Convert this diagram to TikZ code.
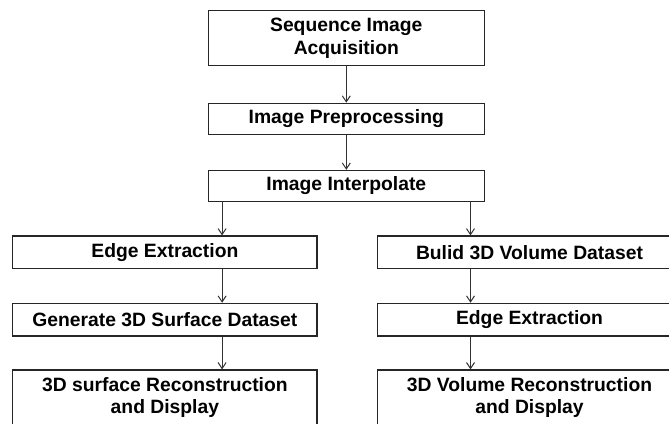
\documentclass[tikz,border=0pt]{standalone}
\usepackage{fontspec}
\setmainfont{Liberation Sans}
\usetikzlibrary{arrows.meta}
\begin{document}
\begin{tikzpicture}
[x=1pt,y=-1pt,
every node/.style={draw=black!85,line width=1.2pt,fill=white,align=center,inner sep=0pt,
  font=\bfseries\fontsize{19.3}{22.7}\selectfont},
stage/.style={minimum width=276pt,minimum height=31pt},
branch/.style={minimum width=304.3pt,minimum height=32.7pt},
link/.style={draw=black!80,line width=1pt,-{Straight Barb[length=6pt,width=8pt]}}]
\useasboundingbox (0,0) rectangle (669,423);
% main line
\node[stage,minimum height=55pt] (acq) at (346.3,38.2) {Sequence Image\\Acquisition};
\node[stage] (prep) at (346.3,118.8) {Image Preprocessing};
\node[stage] (interp) at (346.3,185.9) {Image Interpolate};
% surface branch
\node[branch] (edgeL) at (164.9,252.4) {Edge Extraction};
\node[branch] (genL) at (164.9,319.7) {Generate 3D Surface Dataset};
\node[branch,minimum height=55pt] (recL) at (164.9,397.5) {3D surface Reconstruction\\and Display};
% volume branch
\node[branch] (buildR) at (529.5,252.4) {Bulid 3D Volume Dataset};
\node[branch] (edgeR) at (529.5,319.7) {Edge Extraction};
\node[branch,minimum height=55pt] (recR) at (529.5,397.5) {3D Volume Reconstruction\\and Display};
\draw[link] (acq) -- (prep);
\draw[link] (prep) -- (interp);
\draw[link] ([xshift=14.4pt]interp.south west) coordinate (sl) -- (sl |- edgeL.north);
\draw[link] (sl |- edgeL.south) -- (sl |- genL.north);
\draw[link] (sl |- genL.south) -- (sl |- recL.north);
\draw[link] ([xshift=-14.4pt]interp.south east) coordinate (sr) -- (sr |- buildR.north);
\draw[link] (sr |- buildR.south) -- (sr |- edgeR.north);
\draw[link] (sr |- edgeR.south) -- (sr |- recR.north);
\end{tikzpicture}
\end{document}
